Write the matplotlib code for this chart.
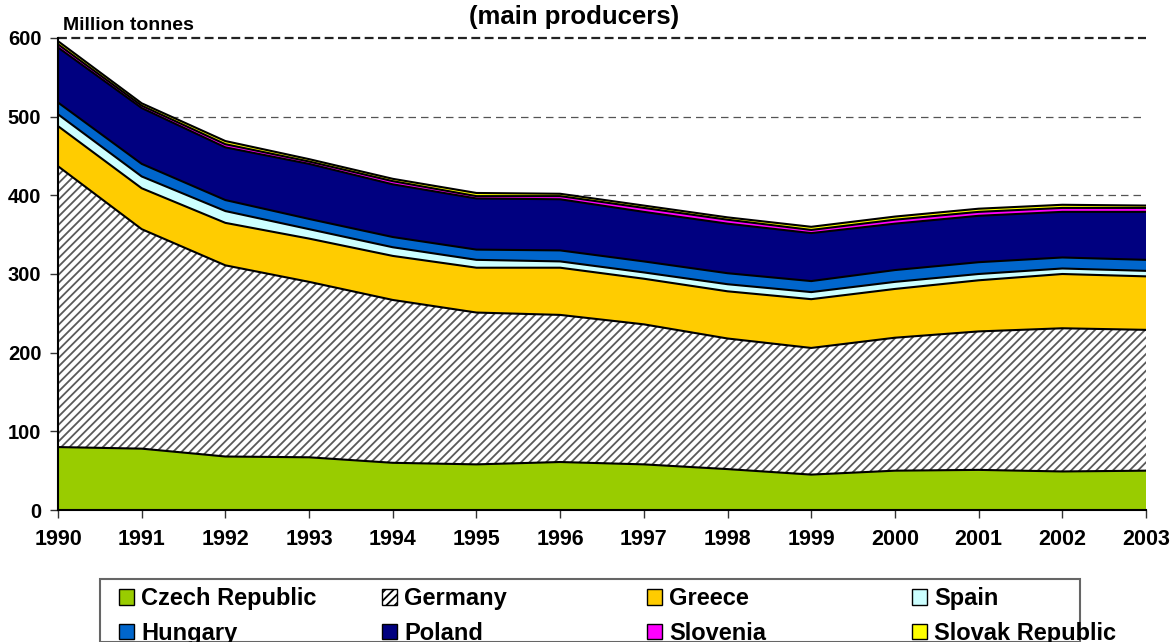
import numpy as np
import matplotlib
matplotlib.use('Agg')
import matplotlib.pyplot as plt
from matplotlib.patches import Patch, Rectangle

plt.rcParams['font.family'] = ['Liberation Sans', 'DejaVu Sans']
plt.rcParams['font.weight'] = 'bold'
plt.rcParams['hatch.linewidth'] = 1.3

years = list(range(1990, 2004))

countries = ['Czech Republic', 'Germany', 'Greece', 'Spain',
             'Hungary', 'Poland', 'Slovenia', 'Slovak Republic']

# lignite production, million tonnes
czech = [80, 78, 68, 67, 60, 58, 61, 58, 52, 45, 50, 51, 49, 50]
germany = [357, 279, 243, 223, 207, 193, 187, 178, 166, 161, 169, 176, 182, 179]
greece = [51, 52, 54, 55, 56, 57, 60, 58, 60, 62, 62, 65, 69, 68]
spain = [15, 15, 15, 12, 11, 10, 8, 8, 9, 9, 9, 8, 7, 7]
hungary = [15, 16, 14, 13, 13, 13, 14, 14, 14, 14, 15, 15, 14, 14]
poland = [70, 71, 67, 70, 67, 65, 65, 63, 63, 61, 59, 59, 58, 61]
slovenia = [4, 3, 4, 3, 4, 3, 4, 5, 5, 4, 5, 5, 5, 5]
slovakia = [4, 3, 4, 3, 3, 4, 3, 3, 3, 4, 4, 4, 4, 3]

colours = ['#99CC00', 'white', '#FFCC00', '#CCFFFF',
           '#0066CC', '#000080', '#FF00FF', '#FFFF00']
hatches = [None, '////', None, None, None, None, None, None]

series = [czech, germany, greece, spain, hungary, poland, slovenia, slovakia]

W, H = 1175, 642
fig = plt.figure(figsize=(W / 100, H / 100), dpi=100)
ax = fig.add_axes([58 / W, 1 - 510 / H, (1146 - 58) / W, (510 - 38) / H])

# Dashed gridlines behind the areas
for g in [100, 200, 300, 400, 500]:
    ax.axhline(g, color='#555555', linestyle=(0, (6, 4)), linewidth=0.9, zorder=0)
ax.axhline(600, color='#222222', linestyle=(0, (4, 2)), linewidth=1.6, zorder=0, clip_on=False)

bottom = np.zeros(len(years))
for vals, col, hat in zip(series, colours, hatches):
    top = bottom + np.array(vals)
    if hat:
        ax.fill_between(years, bottom, top, facecolor=col, edgecolor='#5a5a5a',
                        hatch=hat, linewidth=0, zorder=2)
    else:
        ax.fill_between(years, bottom, top, facecolor=col, linewidth=0, zorder=2)
    ax.plot(years, top, color='black', linewidth=1.5, zorder=3)
    bottom = top

ax.set_xlim(1990, 2003)
ax.set_ylim(0, 600)
ax.set_xticks(years)
ax.set_yticks(range(0, 601, 100))
ax.tick_params(axis='both', direction='out', length=6, width=1, colors='#333333',
               labelcolor='black')
ax.tick_params(axis='x', labelsize=15.5, pad=8)
ax.tick_params(axis='y', labelsize=14.5, pad=6)
for lab in ax.get_xticklabels() + ax.get_yticklabels():
    lab.set_fontweight('bold')

ax.spines['top'].set_visible(False)
ax.spines['right'].set_visible(False)
ax.spines['left'].set_linewidth(1.5)
ax.spines['bottom'].set_linewidth(1.5)

fig.text(63 / W, 1 - 25 / H, 'Million tonnes', fontsize=14, fontweight='bold',
         va='center', ha='left')
fig.text(574 / W, 1 - 17 / H, '(main producers)', fontsize=18.5, fontweight='bold',
         va='center', ha='center')

# Legend: framed box with four columns, filled row by row
fig.add_artist(Rectangle((100 / W, 0), 980 / W, 1 - 579 / H, transform=fig.transFigure,
                         facecolor='white', edgecolor='#666666', linewidth=1.5))
col_x = [119, 382, 647, 912]
for c in range(4):
    pair = [c, c + 4]
    handles = [Patch(facecolor=colours[i], edgecolor='black', hatch=hatches[i],
                     linewidth=1, label=countries[i]) for i in pair]
    leg = fig.legend(handles=handles, loc='upper left',
                     bbox_to_anchor=(col_x[c] / W, 1 - 587 / H),
                     frameon=False, fontsize=17, handlelength=0.65, handleheight=0.65,
                     handletextpad=0.3, borderpad=0, labelspacing=0.5, borderaxespad=0)
    for t in leg.get_texts():
        t.set_fontweight('bold')

fig.savefig('out.png', dpi=100)
